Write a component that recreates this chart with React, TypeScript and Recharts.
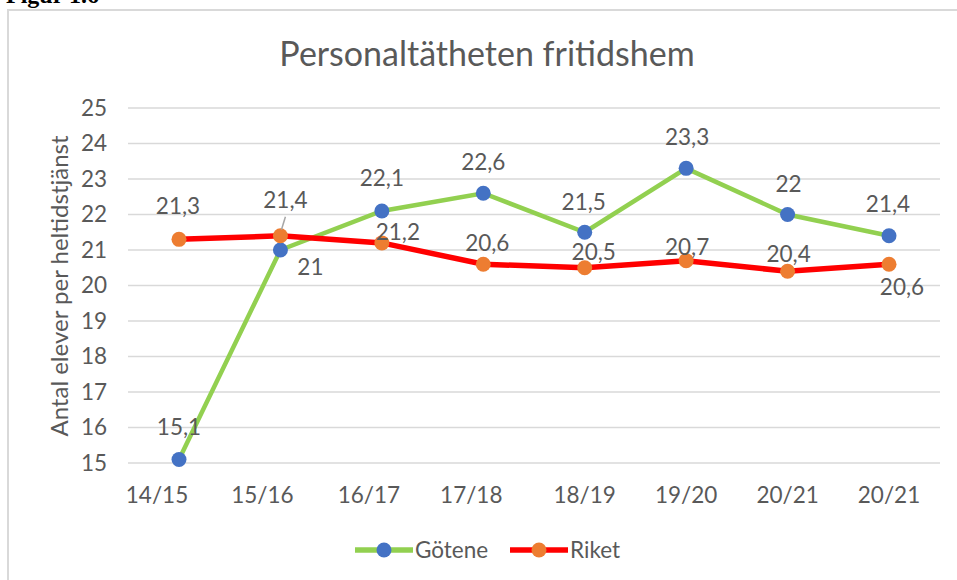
import { LineChart, Line, XAxis, YAxis, CartesianGrid, Legend } from 'recharts';

const years = ['14/15', '15/16', '16/17', '17/18', '18/19', '19/20', '20/21', '20/21'];
const gotene = [15.1, 21, 22.1, 22.6, 21.5, 23.3, 22, 21.4];
const riket = [21.3, 21.4, 21.2, 20.6, 20.5, 20.7, 20.4, 20.6];
const yTicks = [15, 16, 17, 18, 19, 20, 21, 22, 23, 24, 25];

const data = years.map((year, i) => ({ year, gotene: gotene[i], riket: riket[i] }));

const series = [
  { key: 'gotene', name: 'Götene', line: '#92d050', dot: '#4472c4', width: 4.5 },
  { key: 'riket', name: 'Riket', line: '#ff0000', dot: '#ed7d31', width: 5.5 },
];

// label placement (dx, dy from the point to the label centre), like Excel put them
const goteneLabelPos = [[0, -32], [30, 17], [0, -33], [0, -31], [-1, -30], [1, -31], [1, -31], [-1, -32]];
const riketLabelPos = [[-1, -33], [5, -36], [16, -11], [4, -21], [9, -16], [1, -14], [1, -17], [13, 23]];
// x tick labels are not centred under the first points in the original
const tickShift = [-22, -18, -13, -12, 0, 0, 0, 0];

const FONT = 'Lato, "Open Sans", sans-serif';
const GREY = '#595959';
const FS = 22.5;

const fmt = (v: number) => String(v).replace('.', ',');

function makeLabel(pos: number[][], leader?: number) {
  return (props: any) => {
    const { x, y, value, index } = props;
    const [dx, dy] = pos[index] || [0, -30];
    return (
      <g key={`lbl-${index}`}>
        {index === leader && (
          <line x1={x + dx} y1={y + dy + 17} x2={x + 1} y2={y - 6} stroke="#a6a6a6" strokeWidth={1.5} />
        )}
        <text x={x + dx} y={y + dy + 8} textAnchor="middle" fill={GREY} fontSize={FS} fontFamily={FONT}>
          {fmt(value)}
        </text>
      </g>
    );
  };
}

function XTick(props: any) {
  const { x, y, payload, index } = props;
  return (
    <text x={x + (tickShift[index] || 0)} y={y + 40} textAnchor="middle" fill={GREY} fontSize={FS} fontFamily={FONT}>
      {payload.value}
    </text>
  );
}

function LegendContent() {
  return (
    <div style={{ display: 'flex', justifyContent: 'center', alignItems: 'center', fontFamily: FONT, fontSize: FS, color: GREY }}>
      {series.map((s) => (
        <div key={s.key} style={{ display: 'flex', alignItems: 'center', marginRight: 22 }}>
          <svg width={58} height={20}>
            <line x1={1} y1={10} x2={57} y2={10} stroke={s.line} strokeWidth={5.5} strokeLinecap="round" />
            <circle cx={29} cy={10} r={7.5} fill={s.dot} />
          </svg>
          <span style={{ marginLeft: 2 }}>{s.name}</span>
        </div>
      ))}
    </div>
  );
}

export default function App() {
  return (
    <div style={{ position: 'absolute', left: 0, top: 0, width: 957, height: 580, overflow: 'hidden', background: '#fff' }}>
      <div style={{ position: 'absolute', left: 6, top: -17, fontFamily: '"Liberation Serif", "Times New Roman", serif', fontWeight: 'bold', fontSize: 24, lineHeight: '24px', color: '#000' }}>
        Figur 1.6
      </div>
      <div style={{ position: 'absolute', left: 7, top: 9, width: 1000, height: 700, border: '2px solid #d9d9d9' }} />
      <div style={{ position: 'absolute', left: 187, top: 36, width: 600, textAlign: 'center', fontFamily: FONT, fontSize: 34, lineHeight: '34px', color: GREY }}>
        Personaltätheten fritidshem
      </div>
      <div style={{ position: 'absolute', left: 0, top: 0 }}>
        <LineChart width={957} height={580} data={data} margin={{ top: 108, right: 17, bottom: 30, left: 68 }}>
          <CartesianGrid vertical={false} stroke="#d9d9d9" strokeWidth={1.5} />
          <XAxis dataKey="year" axisLine={false} tickLine={false} tickSize={0} tickMargin={0} interval={0} padding={{ left: 51, right: 51 }} tick={<XTick />} height={60} />
          <YAxis
            domain={[15, 25]}
            ticks={yTicks}
            interval={0}
            width={60}
            axisLine={false}
            tickLine={false}
            tickMargin={15}
            tick={{ fill: GREY, fontSize: FS, fontFamily: FONT }}
            label={{
              content: () => (
                <text x={58} y={286} transform="rotate(-90 58 286)" textAnchor="middle" dominantBaseline="central" fill={GREY} fontSize={24} fontFamily={FONT}>
                  Antal elever per heltidstjänst
                </text>
              ),
            }}
          />
          <Legend content={<LegendContent />} wrapperStyle={{ position: 'absolute', top: 536, left: 20, width: 957 }} />
          <Line
            dataKey="gotene"
            name="Götene"
            stroke={series[0].line}
            strokeWidth={series[0].width}
            dot={{ r: 7.5, fill: series[0].dot, stroke: 'none', strokeWidth: 0 }}
            activeDot={false}
            label={makeLabel(goteneLabelPos)}
            isAnimationActive={false}
          />
          <Line
            dataKey="riket"
            name="Riket"
            stroke={series[1].line}
            strokeWidth={series[1].width}
            dot={{ r: 7.5, fill: series[1].dot, stroke: 'none', strokeWidth: 0 }}
            activeDot={false}
            label={makeLabel(riketLabelPos, 1)}
            isAnimationActive={false}
          />
        </LineChart>
      </div>
    </div>
  );
}
